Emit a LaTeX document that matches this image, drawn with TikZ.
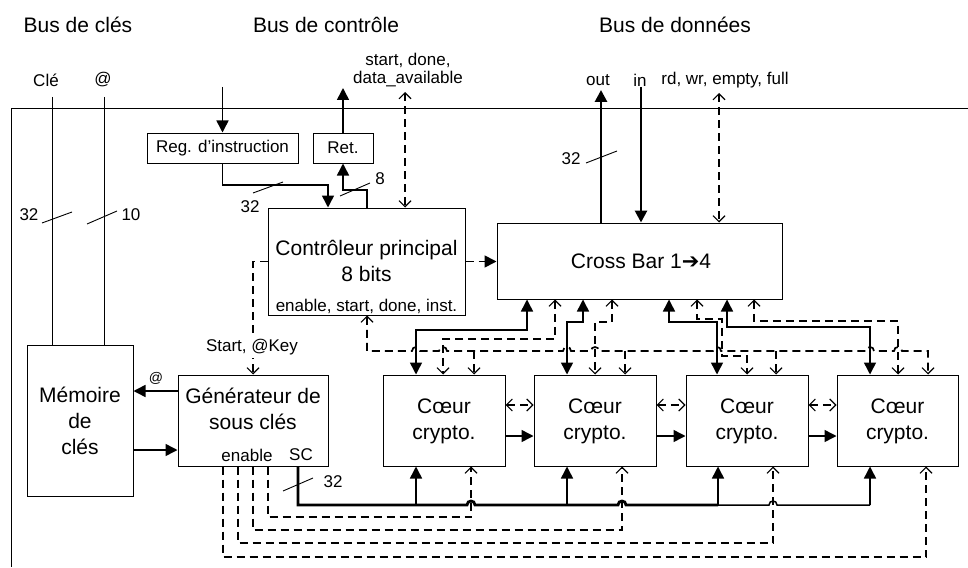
\documentclass[tikz,border=0pt]{standalone}
\usepackage{fontspec}
\setmainfont{Liberation Sans}
\newfontfamily\symb{DejaVu Sans}
\usetikzlibrary{arrows.meta}
\tikzset{
  ob/.tip={Straight Barb[length=6pt,width=12pt,line width=1.1pt]},
  fb/.tip={Triangle[length=12pt,width=12pt]},
  box/.style={draw, line width=1pt, inner sep=0pt},
  sl/.style={line width=1.5pt},
  dl/.style={line width=1.7pt, dash pattern=on 8pt off 5pt},
  bus/.style={line width=2.8pt},
  thinl/.style={line width=0.9pt},
  big/.style={font=\fontsize{21}{26}\selectfont, inner sep=0pt, align=center},
  small/.style={font=\fontsize{17}{17.5}\selectfont, inner sep=0pt, align=center},
  tiny/.style={font=\fontsize{14}{15}\selectfont, inner sep=0pt},
  hop/.style 2 args={insert path={-- ({#1-4},#2) .. controls ({#1-4},{#2-5.3}) and ({#1+4},{#2-5.3}) .. ({#1+4},#2)}}
}
\begin{document}
\begin{tikzpicture}[x=1pt,y=-1pt]
\useasboundingbox (0,0) rectangle (968,567);
% frame
\draw[thinl] (968,108) -- (11,108) -- (11,567);
% titles
\node[big] (t1) at (78,25) {Bus de clés};
\node[big] (t2) at (326,25) {Bus de contrôle};
\node[big] (t3) at (675,25) {Bus de données};
% boxes
\node[box, minimum width=106pt, minimum height=151pt] (mem) at (80,420.5) {};
\node[box, minimum width=150pt, minimum height=91pt] (gen) at (253,420.5) {};
\node[box, minimum width=197pt, minimum height=107pt] (ctrl) at (366.5,261.5) {};
\node[box, minimum width=151pt, minimum height=30pt] (reg) at (222.5,148) {};
\node[box, minimum width=60pt, minimum height=30pt] (ret) at (343,148) {};
\node[box, minimum width=285pt, minimum height=76pt] (xbar) at (639.5,261) {};
\node[box, minimum width=122pt, minimum height=91pt] (c1) at (444,420.5) {};
\node[box, minimum width=122pt, minimum height=91pt] (c2) at (595,420.5) {};
\node[box, minimum width=122pt, minimum height=91pt] (c3) at (747,420.5) {};
\node[box, minimum width=121pt, minimum height=91pt] (c4) at (897.5,420.5) {};
% box texts
\node[big] (memt) at (80,421) {Mémoire\\de\\clés};
\node[big] (gent) at (253,408.5) {Générateur de\\sous clés};
\node[small] (gene) at (247,455) {enable};
\node[small] (gens) at (301,455) {SC};
\node[big] (ctrlt) at (366.5,261) {Contrôleur principal\\8 bits};
\node[small] (ctrls) at (366.5,306) {enable, start, done, inst.};
\node[small] (regt) at (reg) {Reg. d’instruction};
\node[small] (rett) at (ret) {Ret.};
\node[big] (xbart) at (641,261) {Cross Bar 1{\symb ➔}4};
\foreach \c in {c1,c2,c3,c4}{\node[big] (\c t) at ([yshift=-0.5pt]\c) {Cœur\\crypto.};}
% key bus
\node[small] (kcle) at (46,80) {Clé};
\node[small] (kat) at (103,80) {@};
\draw[thinl] (52,97) -- (52,0 |- mem.north);
\draw[thinl] (104,97) -- (104,0 |- mem.north);
\draw[thinl] (42,223) -- (72,212);
\draw[thinl] (87,224) -- (117,211);
\node[small] (k32) at (29,215) {32};
\node[small] (k10) at (131,215) {10};
% generator <-> memory
\draw[sl,-fb] (gen.west |- 0,391) -- (mem.east |- 0,391);
\node[tiny] (gat) at (156,378) {@};
\draw[sl,-fb] (mem.east |- 0,450) -- (gen.west |- 0,450);
% control bus
\draw[sl,-fb] (222.5,87) -- (reg.north);
\draw[sl,-fb] (reg.south) -- (222.5,185) -- (328,185) -- (328,0 |- ctrl.north);
\draw[thinl] (253,193) -- (283,182);
\node[small] (r32) at (250,207) {32};
\draw[sl,-fb] (367,0 |- ctrl.north) -- (367,190) -- (ret.south |- 0,190) -- (ret.south);
\draw[thinl] (340,196) -- (370,183);
\node[small] (r8) at (380,179) {8};
\draw[sl,-fb] (ret.north) -- (343,88);
\draw[dl,ob-ob] (405,92) -- (405,0 |- ctrl.north);
\node[small] (csig) at (408,70) {start, done,\\data\_available};
% start key
\draw[dl,-ob] (ctrl.west) -- (253,0 |- ctrl.west) -- (253,0 |- gen.north);
\node[small, fill=white, inner ysep=3pt] (skey) at (252,347) {Start, @Key};
% ctrl -> crossbar
\draw[dl,-fb] (ctrl.east) -- (xbar.west |- ctrl.east);
% data bus
\node[small] (dout) at (598,80) {out};
\node[small] (din) at (640,80) {in};
\node[small] (dsig) at (725,80) {rd, wr, empty, full};
\draw[bus,-fb] (601,0 |- xbar.north) -- (601,90);
\draw[bus,-fb] (641,87) -- (641,0 |- xbar.north);
\draw[dl,ob-ob] (719,93) -- (719,0 |- xbar.north);
\draw[thinl] (586,163) -- (617,151);
\node[small] (d32) at (571,159) {32};
% crossbar <-> cores, solid
\draw[sl,fb-fb] (527,0 |- xbar.south) -- (527,330) -- (416,330) -- (416,0 |- c1.north);
\draw[sl,fb-fb] (583,0 |- xbar.south) -- (583,322) -- (567,322) -- (567,0 |- c2.north);
\draw[sl,fb-fb] (669,0 |- xbar.south) -- (669,322) -- (717,322) -- (717,0 |- c3.north);
\draw[sl,fb-fb] (727,0 |- xbar.south) -- (727,327) -- (870,327) -- (870,0 |- c4.north);
% crossbar <-> cores, dashed
\draw[dl,ob-ob] (555,0 |- xbar.south) -- (555,339) -- (443,339) -- (443,0 |- c1.north);
\draw[dl,ob-ob] (612,0 |- xbar.south) -- (612,322) -- (595,322) -- (595,0 |- c2.north);
\draw[dl,ob-ob] (697,0 |- xbar.south) -- (697,319) -- (722,319) -- (722,356) -- (747,356) -- (747,0 |- c3.north);
\draw[dl,ob-ob] (754,0 |- xbar.south) -- (754,321) -- (898,321) -- (898,0 |- c4.north);
% controller broadcast
\draw[dl,ob-ob] (367,0 |- ctrl.south) -- (367,351) [hop={416}{351}] [hop={443}{351}] [hop={567}{351}] [hop={595}{351}] [hop={717}{351}] [hop={870}{351}] [hop={898}{351}] -- (928,351) -- (928,0 |- c4.north);
\draw[dl,-ob] (474,351) -- (474,0 |- c1.north);
\draw[dl,-ob] (625,351) -- (625,0 |- c2.north);
\draw[dl,-ob] (776,351) -- (776,0 |- c3.north);
% between cores
\draw[dl,ob-ob] (c1.east |- 0,405) -- (c2.west |- 0,405);
\draw[dl,ob-ob] (c2.east |- 0,405) -- (c3.west |- 0,405);
\draw[dl,ob-ob] (c3.east |- 0,405) -- (c4.west |- 0,405);
\draw[sl,-fb] (c1.east |- 0,436) -- (c2.west |- 0,436);
\draw[sl,-fb] (c2.east |- 0,436) -- (c3.west |- 0,436);
\draw[sl,-fb] (c3.east |- 0,436) -- (c4.west |- 0,436);
% sub-key bus
\draw[bus] (298,0 |- gen.south) -- (298,505) [hop={471}{505}] [hop={622}{505}] -- (718,505);
\draw[sl] (717,505) [hop={773}{505}] -- (870,505);
\draw[sl,-fb] (416,505) -- (416,0 |- c1.south);
\draw[sl,-fb] (567,505) -- (567,0 |- c2.south);
\draw[sl,-fb] (718,505) -- (718,0 |- c3.south);
\draw[sl,-fb] (870,505) -- (870,0 |- c4.south);
\draw[thinl] (283,491) -- (313,478);
\node[small] (s32) at (333,482) {32};
% enable lines
\draw[dl,-ob] (268,0 |- gen.south) -- (268,517) -- (471,517) -- (471,0 |- c1.south);
\draw[dl,-ob] (253,0 |- gen.south) -- (253,530) -- (622,530) -- (622,0 |- c2.south);
\draw[dl,-ob] (238,0 |- gen.south) -- (238,543) -- (773,543) -- (773,0 |- c3.south);
\draw[dl,-ob] (223,0 |- gen.south) -- (223,557) -- (926,557) -- (926,0 |- c4.south);
\end{tikzpicture}
\end{document}
